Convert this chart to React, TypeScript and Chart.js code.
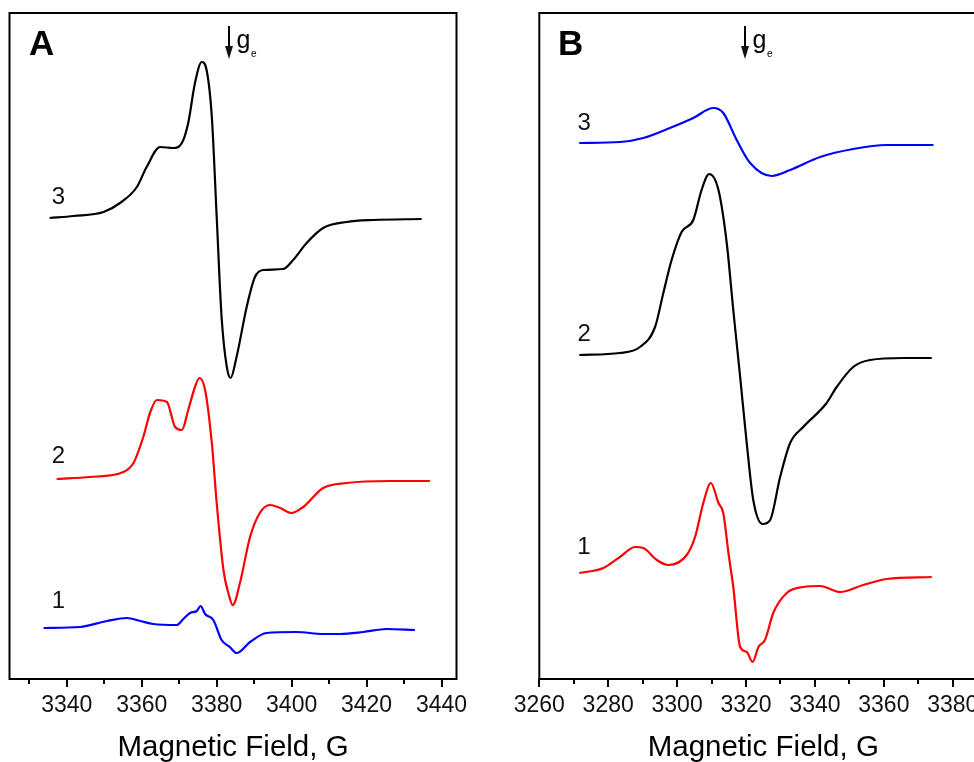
import React, { useEffect, useRef } from "react";
import { Chart, registerables } from "chart.js";

Chart.register(...registerables);

// ---------- Panel A (field in G, intensity in arbitrary units) ----------
const FIELD_A3 = [3335.4, 3341.8, 3349.8, 3354.2, 3358.7, 3361.3, 3364.9, 3368.4, 3370.7, 3372.4, 3374.2, 3376.0, 3377.3, 3378.7, 3380.0, 3381.3, 3382.7, 3383.7, 3385.3, 3388.0, 3390.2, 3392.4, 3397.8, 3400.4, 3404.0, 3408.4, 3414.7, 3421.8, 3434.7];
const INT_A3 = [461, 463, 467, 476, 492, 512, 532, 531, 536, 556, 596, 617, 609, 562, 462, 362, 312, 301, 322, 372, 402, 409, 410, 419, 436, 451, 457, 459, 460];

const FIELD_A2 = [3337.3, 3346.2, 3355.1, 3357.8, 3360.4, 3362.2, 3364.0, 3366.7, 3368.9, 3370.7, 3372.4, 3374.2, 3375.4, 3376.9, 3378.7, 3380.0, 3381.8, 3383.1, 3384.3, 3386.2, 3388.9, 3391.5, 3394.2, 3396.9, 3400.0, 3403.1, 3408.4, 3414.7, 3426.2, 3436.9];
const INT_A2 = [200, 202, 207, 216, 242, 266, 279, 277, 252, 249, 269, 292, 301, 289, 236, 176, 109, 86, 74, 96, 142, 166, 174, 171, 166, 172, 191, 196, 198, 198];

const FIELD_A1 = [3333.8, 3343.5, 3350.7, 3356.0, 3359.6, 3363.1, 3369.3, 3371.1, 3372.9, 3374.7, 3375.7, 3376.9, 3379.1, 3381.3, 3383.5, 3385.3, 3388.9, 3393.3, 3401.3, 3408.4, 3412.9, 3419.1, 3425.3, 3432.9];
const INT_A1 = [51, 52, 58, 61, 58, 55, 54, 60, 66, 68, 73, 65, 59, 39, 32, 26, 37, 46, 47, 45, 45, 47, 50, 49];

// ---------- Panel B ----------
const FIELD_B3 = [3271.6, 3283.4, 3290.2, 3297.9, 3304.7, 3310.5, 3313.4, 3317.3, 3321.2, 3327.5, 3332.8, 3341.5, 3351.1, 3360.8, 3374.4];
const INT_B3 = [536, 537, 541, 551, 561, 571, 566, 539, 516, 503, 509, 522, 530, 534, 534];

const FIELD_B2 = [3271.6, 3283.4, 3289.2, 3293.6, 3296.0, 3298.4, 3301.3, 3304.7, 3307.1, 3309.3, 3312.0, 3314.4, 3316.3, 3318.3, 3320.2, 3322.1, 3324.8, 3327.0, 3329.9, 3332.8, 3336.6, 3343.4, 3346.3, 3351.1, 3356.0, 3365.7, 3373.9];
const INT_B2 = [324, 326, 332, 352, 386, 419, 447, 459, 489, 505, 489, 436, 369, 302, 236, 179, 155, 159, 202, 236, 252, 276, 292, 312, 319, 321, 321];

const FIELD_B1 = [3271.6, 3278.6, 3283.4, 3287.8, 3290.2, 3294.1, 3297.4, 3302.8, 3305.2, 3307.6, 3309.8, 3312.0, 3313.4, 3314.9, 3316.3, 3318.3, 3320.2, 3321.9, 3323.6, 3325.5, 3327.9, 3331.8, 3336.6, 3341.5, 3347.3, 3354.0, 3360.8, 3373.9];
const INT_B1 = [106, 111, 122, 132, 131, 119, 114, 124, 142, 176, 196, 176, 166, 126, 92, 32, 27, 17, 32, 39, 66, 86, 92, 93, 87, 94, 100, 102];

// ---------- Axes ----------
const TICKS_A = [3340, 3360, 3380, 3400, 3420, 3440];
const MINOR_A = [3330, 3350, 3370, 3390, 3410, 3430];
const TICKS_B = [3260, 3280, 3300, 3320, 3340, 3360, 3380];
const MINOR_B = [3270, 3290, 3310, 3330, 3350, 3370];
const AXIS_TITLE = "Magnetic Field, G";
const GE_A = 3383.3;
const GE_B = 3319.8;

const FONT = "'Liberation Sans', Arial, sans-serif";

type Series = { x: number[]; y: number[]; color: string };
type Label = { text: string; x: number; y: number };

type Panel = {
  series: Series[];
  min: number;
  max: number;
  ticks: number[];
  minor: number[];
  padL: number;
  padR: number;
  letter: Label;
  labels: Label[];
  ge: number;
};

const PANEL_A: Panel = {
  series: [
    { x: FIELD_A3, y: INT_A3, color: "#000000" },
    { x: FIELD_A2, y: INT_A2, color: "#ff0000" },
    { x: FIELD_A1, y: INT_A1, color: "#0000ff" },
  ],
  min: 3324.7,
  max: 3444,
  ticks: TICKS_A,
  minor: MINOR_A,
  padL: 9.5,
  padR: 30.5,
  letter: { text: "A", x: 3329.9, y: 634 },
  labels: [
    { text: "3", x: 3336.0, y: 482 },
    { text: "2", x: 3336.0, y: 223 },
    { text: "1", x: 3336.0, y: 78 },
  ],
  ge: GE_A,
};

const PANEL_B: Panel = {
  series: [
    { x: FIELD_B3, y: INT_B3, color: "#0000ff" },
    { x: FIELD_B2, y: INT_B2, color: "#000000" },
    { x: FIELD_B1, y: INT_B1, color: "#ff0000" },
  ],
  min: 3260,
  max: 3390,
  ticks: TICKS_B,
  minor: MINOR_B,
  padL: 52.3,
  padR: 19.8,
  letter: { text: "B", x: 3265.4, y: 634 },
  labels: [
    { text: "3", x: 3271.1, y: 556 },
    { text: "2", x: 3271.1, y: 345 },
    { text: "1", x: 3271.0, y: 132 },
  ],
  ge: GE_B,
};

function makeDecor(p: Panel) {
  return {
    id: "decor",
    afterDraw(chart: any) {
      const { ctx, chartArea } = chart;
      const xs = chart.scales.x;
      const ys = chart.scales.y;
      ctx.save();
      // frame
      ctx.strokeStyle = "#000";
      ctx.lineWidth = 2;
      ctx.strokeRect(chartArea.left, chartArea.top, chartArea.right - chartArea.left, chartArea.bottom - chartArea.top);
      // minor ticks
      ctx.beginPath();
      for (const v of p.minor) {
        const px = Math.round(xs.getPixelForValue(v));
        if (px < chartArea.left || px > chartArea.right) continue;
        ctx.moveTo(px, chartArea.bottom);
        ctx.lineTo(px, chartArea.bottom + 5);
      }
      ctx.stroke();
      // panel letter
      ctx.fillStyle = "#000";
      ctx.textAlign = "left";
      ctx.textBaseline = "middle";
      ctx.font = `bold 35px ${FONT}`;
      ctx.fillText(p.letter.text, xs.getPixelForValue(p.letter.x), ys.getPixelForValue(p.letter.y));
      // curve labels
      ctx.font = `24px ${FONT}`;
      ctx.fillStyle = "#111";
      for (const l of p.labels) {
        ctx.fillText(l.text, xs.getPixelForValue(l.x), ys.getPixelForValue(l.y));
      }
      // g_e arrow
      const ax = Math.round(xs.getPixelForValue(p.ge));
      const yTop = ys.getPixelForValue(653);
      const yBot = ys.getPixelForValue(620);
      ctx.strokeStyle = "#000";
      ctx.lineWidth = 2;
      ctx.beginPath();
      ctx.moveTo(ax, yTop);
      ctx.lineTo(ax, yBot - 8);
      ctx.stroke();
      ctx.beginPath();
      ctx.moveTo(ax - 4, yBot - 13);
      ctx.lineTo(ax + 4, yBot - 13);
      ctx.lineTo(ax, yBot);
      ctx.closePath();
      ctx.fill();
      ctx.textBaseline = "alphabetic";
      ctx.font = `25px ${FONT}`;
      ctx.fillStyle = "#000";
      ctx.fillText("g", ax + 7.5, ys.getPixelForValue(631));
      ctx.font = `10px ${FONT}`;
      ctx.fillText("e", ax + 22, ys.getPixelForValue(622));
      ctx.restore();
    },
  };
}

function buildConfig(p: Panel): any {
  return {
    type: "line",
    data: {
      datasets: p.series.map((s) => ({
        data: s.x.map((x, i) => ({ x, y: s.y[i] })),
        borderColor: s.color,
        borderWidth: 2.2,
        pointRadius: 0,
        fill: false,
        cubicInterpolationMode: "monotone",
      })),
    },
    options: {
      responsive: false,
      animation: false,
      layout: { padding: { left: p.padL, right: p.padR, top: 13, bottom: 0 } },
      plugins: { legend: { display: false }, tooltip: { enabled: false } },
      scales: {
        x: {
          type: "linear",
          min: p.min,
          max: p.max,
          afterBuildTicks: (s: any) => {
            s.ticks = p.ticks.map((v) => ({ value: v }));
          },
          afterFit: (s: any) => {
            s.height = 83;
          },
          grid: { display: true, drawOnChartArea: false, drawTicks: true, tickLength: 8, color: "#000", lineWidth: 2 },
          border: { display: false },
          ticks: {
            font: { family: FONT, size: 23 },
            color: "#111",
            padding: 5,
            maxRotation: 0,
            autoSkip: false,
            callback: (v: any) => String(v),
          },
          title: {
            display: true,
            text: AXIS_TITLE,
            font: { family: FONT, size: 29.5, lineHeight: 1 },
            color: "#000",
            padding: { top: 0, bottom: -1 },
          },
        },
        y: { display: false, min: 0, max: 666 },
      },
    },
    plugins: [makeDecor(p)],
  };
}

function PanelChart({ panel, left, width }: { panel: Panel; left: number; width: number }) {
  const ref = useRef<HTMLCanvasElement | null>(null);
  useEffect(() => {
    if (!ref.current) return;
    const chart = new Chart(ref.current, buildConfig(panel));
    return () => chart.destroy();
  }, [panel]);
  return (
    <canvas
      ref={ref}
      width={width}
      height={762}
      style={{ position: "absolute", left, top: 0, width, height: 762 }}
    />
  );
}

export default function App() {
  return (
    <div
      style={{
        position: "fixed",
        left: 0,
        top: 0,
        width: 974,
        height: 762,
        overflow: "hidden",
        background: "#fff",
      }}
    >
      <PanelChart panel={PANEL_A} left={0} width={487} />
      <PanelChart panel={PANEL_B} left={487} width={520} />
    </div>
  );
}
